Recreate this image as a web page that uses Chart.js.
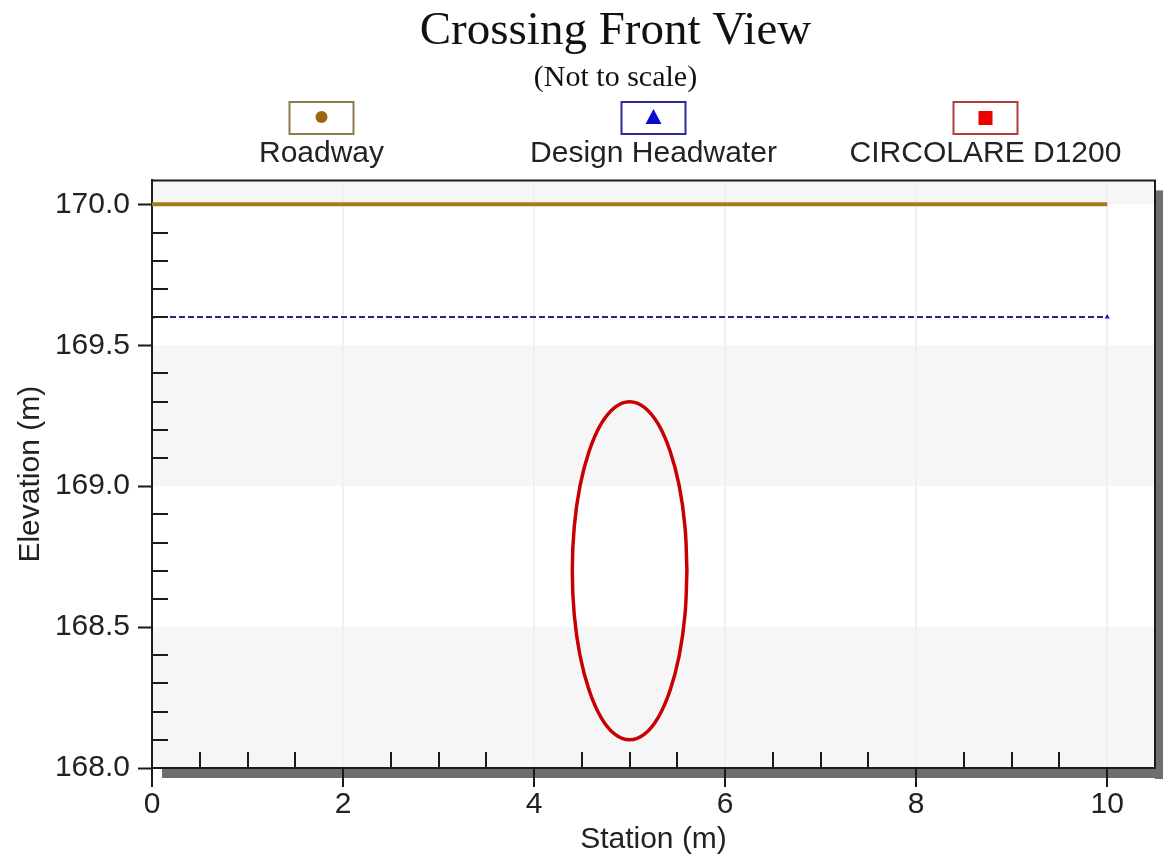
<!DOCTYPE html>
<html>
<head>
<style>
  body { margin: 0; background: #fff; }
  #wrap { width: 1163px; height: 864px; }
</style>
</head>
<body>

<div id="wrap">
  <canvas id="myChart"></canvas>
</div>

<script src="https://cdn.jsdelivr.net/npm/chart.js"></script>

<script>
  // data
  const seriesNames = ['Roadway', 'Design Headwater', 'CIRCOLARE D1200'];

  const roadwayX = [0, 10];
  const roadwayY = [170.0, 170.0];

  const headwaterX = [0, 10];
  const headwaterY = [169.6, 169.6];

  // culvert outline, D1200 centred at station 5, invert 168.1
  const culvertX = [5.6, 5.58, 5.52, 5.424, 5.3, 5.155, 5.0, 4.845, 4.7, 4.576, 4.48, 4.42, 4.4,
                    4.42, 4.48, 4.576, 4.7, 4.845, 5.0, 5.155, 5.3, 5.424, 5.52, 5.58, 5.6];
  const culvertY = [168.7, 168.855, 169.0, 169.124, 169.22, 169.28, 169.3, 169.28, 169.22, 169.124, 169.0, 168.855, 168.7,
                    168.545, 168.4, 168.276, 168.18, 168.12, 168.1, 168.12, 168.18, 168.276, 168.4, 168.545, 168.7];

  const xTicks = [0, 2, 4, 6, 8, 10];
  const yTicks = [168.0, 168.5, 169.0, 169.5, 170.0];

  function toPoints(xs, ys) {
    return xs.map(function(x, i) { return { x: x, y: ys[i] }; });
  }
</script>

<script>
  const sansFont = '"Liberation Sans", Arial, sans-serif';
  const serifFont = '"Liberation Serif", "Times New Roman", serif';

  // background, shadow and grey bands behind the plot
  const backdrop = {
    id: 'backdrop',
    afterLayout(chart) {
      // the original's title is centred a bit right of the page centre
      chart.boxes.forEach(function(b) {
        if (b.options && typeof b.options.text === 'string') b.left += 76;
      });
    },
    beforeDraw(chart) {
      const ctx = chart.ctx;
      const a = chart.chartArea;
      const y = chart.scales.y;
      ctx.save();
      ctx.fillStyle = '#ffffff';
      ctx.fillRect(0, 0, chart.width, chart.height);
      // drop shadow
      ctx.fillStyle = '#6e6e6e';
      ctx.fillRect(a.right, a.top + 10, 8, a.bottom - a.top + 1);
      ctx.fillRect(a.left + 10, a.bottom, a.right - a.left, 10);
      ctx.fillStyle = '#ffffff';
      ctx.fillRect(a.left, a.top, a.right - a.left, a.bottom - a.top);
      // alternating bands
      ctx.fillStyle = '#f6f6f6';
      const bands = [[170.0, y.max], [169.0, 169.5], [168.0, 168.5]];
      bands.forEach(function(b) {
        const y1 = y.getPixelForValue(b[1]);
        const y0 = y.getPixelForValue(b[0]);
        ctx.fillRect(a.left, y1, a.right - a.left, y0 - y1);
      });
      ctx.restore();
    },
    afterDraw(chart) {
      const ctx = chart.ctx;
      const a = chart.chartArea;
      const xs = chart.scales.x;
      const ys = chart.scales.y;
      ctx.save();
      ctx.strokeStyle = '#1a1a1a';
      ctx.lineWidth = 2;
      // top and right frame
      ctx.beginPath();
      ctx.moveTo(a.left, a.top);
      ctx.lineTo(a.right, a.top);
      ctx.lineTo(a.right, a.bottom);
      ctx.stroke();
      // inward minor ticks
      ctx.beginPath();
      for (let v = 0.5; v < xs.max; v += 0.5) {
        if (v % 2 === 0) continue;
        const px = Math.round(xs.getPixelForValue(v));
        ctx.moveTo(px, a.bottom);
        ctx.lineTo(px, a.bottom - 16);
      }
      for (let k = 1; k < 20; k++) {
        if (k % 5 === 0) continue;
        const py = Math.round(ys.getPixelForValue(168 + k / 10));
        ctx.moveTo(a.left, py);
        ctx.lineTo(a.left + 16, py);
      }
      ctx.stroke();

      // legend: boxed marker with the name underneath
      const cx = (a.left + a.right) / 2;
      const marks = [
        { border: '#8c7b4e', fill: '#a0660e', shape: 'circle' },
        { border: '#2a2a9a', fill: '#0a0ad0', shape: 'triangle' },
        { border: '#b03c3c', fill: '#ee0000', shape: 'square' }
      ];
      ctx.font = '30px ' + sansFont;
      ctx.textAlign = 'center';
      ctx.textBaseline = 'alphabetic';
      chart.data.datasets.forEach(function(ds, i) {
        const mx = cx + (i - 1) * 332;
        const m = marks[i];
        ctx.fillStyle = '#ffffff';
        ctx.fillRect(mx - 32, 102, 64, 32);
        ctx.strokeStyle = m.border;
        ctx.lineWidth = 2;
        ctx.strokeRect(mx - 32, 102, 64, 32);
        ctx.fillStyle = m.fill;
        ctx.beginPath();
        if (m.shape === 'circle') {
          ctx.arc(mx, 117, 6, 0, Math.PI * 2);
        } else if (m.shape === 'triangle') {
          ctx.moveTo(mx, 109);
          ctx.lineTo(mx + 8, 124);
          ctx.lineTo(mx - 8, 124);
          ctx.closePath();
        } else {
          ctx.rect(mx - 7, 111, 14, 14);
        }
        ctx.fill();
        ctx.fillStyle = '#222222';
        ctx.fillText(ds.label, mx, 162);
      });
      ctx.restore();
    }
  };

  const data = {
    datasets: [
      {
        label: seriesNames[0],
        data: toPoints(roadwayX, roadwayY),
        borderColor: '#a57c1b',
        borderWidth: 4,
        pointRadius: 0
      },
      {
        label: seriesNames[1],
        data: toPoints(headwaterX, headwaterY),
        borderColor: '#26268f',
        borderWidth: 2,
        borderDash: [6, 3],
        pointStyle: 'triangle',
        pointRadius: 3,
        pointBackgroundColor: '#1a1acc',
        pointBorderWidth: 0
      },
      {
        label: seriesNames[2],
        data: toPoints(culvertX, culvertY),
        borderColor: '#c80000',
        borderWidth: 3.5,
        pointRadius: 0,
        tension: 0.4
      }
    ]
  };

  const config = {
    type: 'scatter',
    data: data,
    options: {
      responsive: true,
      maintainAspectRatio: false,
      animation: false,
      showLine: true,
      layout: { padding: { left: 0, right: 8, top: 0, bottom: 0 } },
      plugins: {
        legend: { display: false },
        tooltip: { enabled: false },
        title: {
          display: true,
          text: 'Crossing Front View',
          color: '#111',
          font: { family: serifFont, size: 47, weight: 'normal' },
          padding: { top: 3, bottom: 0 }
        },
        subtitle: {
          display: true,
          text: '(Not to scale)',
          color: '#111',
          font: { family: serifFont, size: 30, weight: 'normal' },
          padding: { top: 1, bottom: 84 }
        }
      },
      scales: {
        x: {
          type: 'linear',
          min: 0,
          max: 10.5,
          afterBuildTicks: function(scale) {
            scale.ticks = xTicks.map(function(v) { return { value: v }; });
          },
          afterFit: function(scale) { scale.height = 96; },
          ticks: {
            color: '#222',
            font: { family: sansFont, size: 30 },
            padding: 0,
            maxRotation: 0
          },
          grid: {
            color: '#f0f0f0',
            lineWidth: 2,
            tickColor: '#1a1a1a',
            tickLength: 19,
            tickWidth: 2
          },
          border: { color: '#1a1a1a', width: 2 },
          title: {
            display: true,
            text: 'Station (m)',
            color: '#222',
            font: { family: sansFont, size: 30 },
            padding: { top: 0, bottom: 6 }
          }
        },
        y: {
          type: 'linear',
          min: 168.0,
          max: 170.085,
          afterBuildTicks: function(scale) {
            scale.ticks = yTicks.map(function(v) { return { value: v }; });
          },
          afterFit: function(scale) { scale.width = 152; },
          ticks: {
            color: '#222',
            font: { family: sansFont, size: 30 },
            padding: 8,
            callback: function(v) { return Number(v).toFixed(1); }
          },
          grid: {
            drawOnChartArea: false,
            tickColor: '#1a1a1a',
            tickLength: 14,
            tickWidth: 2
          },
          border: { color: '#1a1a1a', width: 2 },
          title: {
            display: true,
            text: 'Elevation (m)',
            color: '#222',
            font: { family: sansFont, size: 30 },
            padding: { top: 13, bottom: 0 }
          }
        }
      }
    },
    plugins: [backdrop]
  };

  const myChart = new Chart(document.getElementById('myChart'), config);
</script>

</body>
</html>
